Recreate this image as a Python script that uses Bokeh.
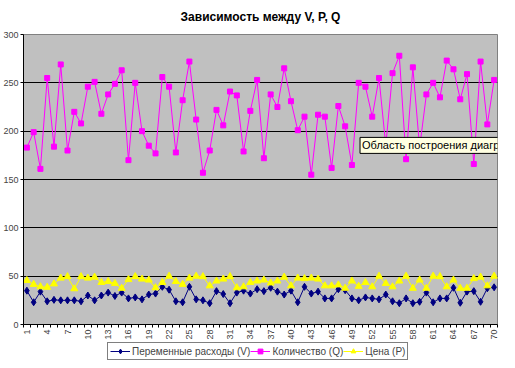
from bokeh.plotting import figure
from bokeh.layouts import column
from bokeh.models import Range1d, FixedTicker, Legend, LegendItem, Label
from bokeh.embed import file_html
from bokeh.resources import INLINE

# ---- data ----
periods = list(range(1, 71))

V_costs = [35, 23, 34, 24, 25.5, 25, 25, 25, 24, 30,
           25, 30, 33, 29.5, 33, 27, 28, 26, 31, 32,
           39, 36, 24, 23, 39, 26, 25, 22, 34.5, 31.5,
           22, 33, 35, 32, 36.5, 34.5, 38, 34, 31, 35,
           23, 39, 32, 34, 27, 27, 36.5, 35.5, 27, 25,
           28, 27, 26, 31, 24, 22, 27, 22, 23.5, 33,
           23, 27, 27, 38, 22.5, 34, 34.5, 23.5, 37.5, 38.5]

Q_qty = [183, 199, 161, 255, 184, 269, 180, 220, 208, 246,
         251, 218, 238, 249, 263, 170, 250, 200, 185, 177,
         256, 246, 178, 232, 272, 212, 157, 180, 222, 206,
         241, 237, 179, 221, 253, 172, 238, 225, 265, 231,
         201, 215, 155, 217, 215, 162, 226, 205, 165, 250,
         246, 215, 255, 185, 260, 278, 171, 266, 183, 238,
         250, 235, 273, 264, 233, 259, 166, 272, 207, 253]

P_price = [45.5, 41.5, 39, 38.5, 42, 48, 49.5, 37, 49.5, 48,
           49, 43.5, 44.5, 42.5, 37.5, 46.5, 49.5, 47, 46, 38,
           43.5, 50, 44.5, 41.5, 48, 50, 49.5, 40, 45, 47,
           49.5, 38, 39, 43.5, 45, 46, 43, 45, 49, 40,
           48, 47.5, 48, 47, 40, 40, 41, 37.5, 45, 39.5,
           43.5, 39, 50, 42.5, 39, 45, 50, 37.5, 46, 37.5,
           50, 49.5, 39, 46, 37.5, 37.5, 47.5, 49, 40, 50]

x_tick_values = list(range(1, 71, 3))
x_tick_labels = [str(v) for v in x_tick_values]
y_tick_values = [0, 50, 100, 150, 200, 250, 300]
grid_values = [50, 100, 150, 200, 250]

series_names = ["Переменные расходы (V)", "Количество (Q)", "Цена (P)"]
series_colors = ["#000080", "#FF00FF", "#FFFF00"]
series_markers = ["diamond", "square", "triangle"]
marker_sizes = [7, 5, 7]
title_text = "Зависимость между V, P, Q"
tooltip_text = "Область построения диагр"

FONT = "Liberation Sans"

p = figure(width=499, height=342, output_backend="svg", toolbar_location=None,
           x_range=Range1d(0.5, 70.5), y_range=Range1d(0, 300),
           min_border_left=4, min_border_right=2, min_border_top=33,
           min_border_bottom=18,
           background_fill_color="#C0C0C0", border_fill_color="white")

p.title.text = title_text
p.title.align = "center"
p.title.vertical_align = "top"
p.title.text_font = FONT
p.title.text_font_size = "12px"
p.title.text_font_style = "bold"
p.title.text_color = "black"
p.title.standoff = 18

p.outline_line_color = "#808080"
p.outline_line_width = 1

# y axis
p.yaxis.ticker = FixedTicker(ticks=y_tick_values, minor_ticks=[])
p.yaxis.axis_line_color = "black"
p.yaxis.major_tick_line_color = "black"
p.yaxis.major_tick_out = 3
p.yaxis.major_tick_in = 0
p.yaxis.minor_tick_line_color = None
p.yaxis.major_label_text_font = FONT
p.yaxis.major_label_text_font_size = "9px"
p.yaxis.major_label_standoff = 2

# x axis
p.xaxis.ticker = FixedTicker(ticks=x_tick_values,
                             minor_ticks=[v + 0.5 for v in range(0, 71)])
p.xaxis.major_label_overrides = dict(zip(x_tick_values, x_tick_labels))
p.xaxis.axis_line_color = "black"
p.xaxis.major_tick_line_color = None
p.xaxis.major_tick_out = 3
p.xaxis.minor_tick_line_color = "black"
p.xaxis.minor_tick_out = 3
p.xaxis.minor_tick_in = 0
p.xaxis.major_label_orientation = 1.5708
p.xaxis.major_label_text_font = FONT
p.xaxis.major_label_text_font_size = "9px"
p.xaxis.major_label_standoff = 2

p.xgrid.visible = False
p.ygrid.ticker = FixedTicker(ticks=grid_values, minor_ticks=[])
p.ygrid.grid_line_color = "black"
p.ygrid.grid_line_width = 1

series_values = [V_costs, Q_qty, P_price]
for vals, col, mk, sz in zip(series_values, series_colors, series_markers, marker_sizes):
    p.line(periods, vals, line_color=col, line_width=1)
    p.scatter(periods, vals, marker=mk, size=sz, fill_color=col, line_color=col)

tip = Label(x=50.2, y=177, text=tooltip_text, text_font=FONT,
            text_font_size="11px", text_color="black",
            text_baseline="bottom",
            background_fill_color="#FFFFE1", border_line_color="black",
            padding=2)
p.add_layout(tip)

# ---- legend strip (separate small figure below; its glyphs stay out of view) ----
lg = figure(width=499, height=18, output_backend="svg", toolbar_location=None,
            x_axis_location=None, y_axis_location=None,
            x_range=Range1d(-2, -1), y_range=Range1d(-2, -1),
            min_border=0, min_border_left=0, min_border_right=0,
            min_border_top=0, min_border_bottom=0,
            outline_line_color=None, background_fill_color="white",
            border_fill_color="white")
lg.xgrid.visible = False
lg.ygrid.visible = False

items = []
for name, vals, col, mk, sz in zip(series_names, series_values, series_colors,
                                   series_markers, marker_sizes):
    r1 = lg.line(periods, vals, line_color=col, line_width=1)
    r2 = lg.scatter(periods, vals, marker=mk, size=sz, fill_color=col, line_color=col)
    items.append(LegendItem(label=name, renderers=[r1, r2]))

legend = Legend(items=items, orientation="horizontal", location=(84, 0),
                border_line_color="black", border_line_width=1,
                background_fill_color="white", background_fill_alpha=1,
                label_text_font=FONT, label_text_font_size="10px",
                glyph_width=20, glyph_height=12, label_standoff=2,
                spacing=0, padding=2, margin=0, label_height=12)
lg.add_layout(legend, "center")

layout = column(p, lg, spacing=0)

open("out.html", "w").write(file_html(layout, INLINE))
